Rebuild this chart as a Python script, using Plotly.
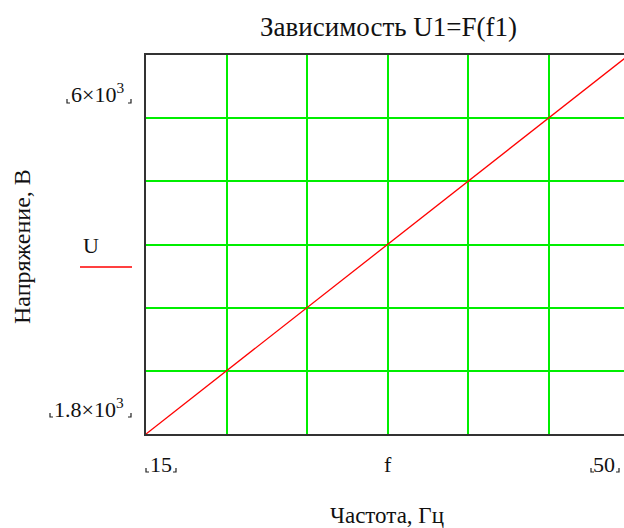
import plotly.graph_objects as go

# Frequency (Hz) and voltage (V) samples
f_hz = [15, 20, 25, 30, 35, 40, 45, 50]
u_volts = [1800, 2400, 3000, 3600, 4200, 4800, 5400, 6000]

x_min, x_max = 15, 50
y_min, y_max = 1800, 6000

W, H = 624, 528
L, T, B = 146, 55, 94
plot_w = W - L
plot_h = H - T - B
full_w = 483  # width of the full axis box in pixels (extends past the page edge)

FONT = "Liberation Serif"
TXT = "#111111"


def px(x):
    return (x - L) / plot_w


def py(y):
    return (H - B - y) / plot_h


x_end = x_min + (x_max - x_min) * plot_w / full_w
x_grid = [x_min + (x_max - x_min) * k / 6 for k in range(1, 6)]
y_grid = [y_min + (y_max - y_min) * k / 6 for k in range(1, 6)]

fig = go.Figure()
fig.add_trace(go.Scatter(
    x=f_hz, y=u_volts, mode="lines",
    line=dict(color="#ff0000", width=1.3),
    showlegend=False, hoverinfo="skip",
))

axis_common = dict(
    showgrid=True, gridcolor="#00ee00", gridwidth=1.6,
    zeroline=False, ticks="", showticklabels=False,
    showline=True, linecolor="#333333", linewidth=2,
)
fig.update_xaxes(range=[x_min, x_end], tickvals=x_grid, mirror=True, **axis_common)
fig.update_yaxes(range=[y_min, y_max], tickvals=y_grid, **axis_common)


def label(text, x, y, size=22, xanchor="center", yanchor="middle", angle=0):
    fig.add_annotation(
        text=text, x=px(x), y=py(y), xref="paper", yref="paper",
        xanchor=xanchor, yanchor=yanchor, showarrow=False, textangle=angle,
        font=dict(family=FONT, size=size, color=TXT),
    )


# Title and axis captions
label("Зависимость U1=F(f1)", 388, 27, size=27)
label("Частота, Гц", 387, 515, size=23)
label("Напряжение, В", 22, 247, size=24, angle=-90)

# Axis limit labels
label("6×10<sup>3</sup>", 126, 93, xanchor="right")
label("1.8×10<sup>3</sup>", 126, 408, xanchor="right")
label("15", 161, 464)
label("f", 388, 464)
label("50", 604, 464)

# Trace legend: name above a short red stroke
label("U", 91, 245)
fig.add_shape(type="line", xref="paper", yref="paper",
              x0=px(80), x1=px(132), y0=py(267), y1=py(267),
              line=dict(color="#ff0000", width=1.5))

# Small corner marks framing the limit labels
def corner(x, y, side):
    dx = 3 if side == "left" else -3
    fig.add_shape(type="path", xref="paper", yref="paper",
                  path=f"M {px(x)},{py(y - 4)} L {px(x)},{py(y)} L {px(x + dx)},{py(y)}",
                  line=dict(color="#222222", width=1.2))


for (xl, xr, yb) in [(67, 131, 103), (50, 131, 417), (146, 176, 472), (591, 619, 472)]:
    corner(xl, yb, "left")
    corner(xr, yb, "right")

fig.update_layout(
    width=W, height=H,
    margin=dict(l=L, r=0, t=T, b=B),
    paper_bgcolor="white", plot_bgcolor="white",
    showlegend=False,
)

fig.write_html("out.html")
